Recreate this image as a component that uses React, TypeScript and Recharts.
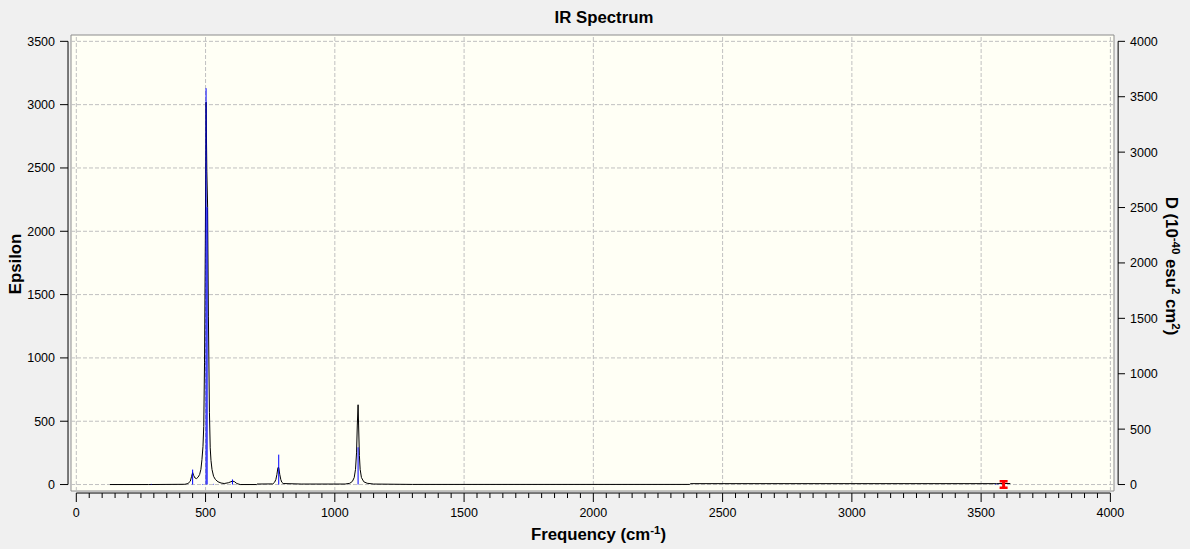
import {
  ComposedChart,
  Label,
  Line,
  ReferenceArea,
  ReferenceLine,
  Scatter,
  XAxis,
  YAxis,
} from 'recharts';

// broadened IR curve, [frequency cm-1, epsilon]
const spectrum: [number, number][] = [
  [130, 0], [280, 0], [420, 2], [432, 8], [441, 26], [446, 65], [450, 95],
  [454, 72], [459, 52], [465, 47], [471, 58], [477, 79], [482, 120], [486, 197],
  [490, 300], [493, 459], [496, 961], [499, 1900], [502, 3020], [505, 2470],
  [508, 2190], [511, 1330], [515, 567], [518, 290], [521, 190], [525, 118],
  [531, 65], [538, 40], [548, 22], [560, 12], [572, 8], [588, 14], [598, 22],
  [604, 27], [611, 24], [621, 8], [634, 0], [698, 0], [700, 4], [760, 5],
  [767, 18], [772, 40], [776, 80], [780, 134], [783, 134], [787, 80], [791, 40],
  [795, 18], [800, 8], [870, 4], [1040, 4], [1058, 10], [1068, 25], [1075, 55],
  [1080, 120], [1084, 250], [1087, 470], [1090, 630], [1092, 470], [1095, 230],
  [1098, 120], [1103, 55], [1112, 22], [1125, 10], [1150, 4], [1300, 1],
  [2372, 1], [2376, 7], [3560, 7], [3585, 8], [3613, 8],
];

// computed transitions (blue sticks), intensity on the D axis
const stickFreqs = [290, 450, 488, 502, 506, 531, 604, 783, 1090, 3555, 3565];
const stickStrengths = [6, 135, 5, 3577, 2503, 6, 46, 270, 336, 6, 6];

const markerPoint = [{ freq: 3587, eps: 0 }];

const freqMajorTicks = [0, 500, 1000, 1500, 2000, 2500, 3000, 3500, 4000];
const freqTicks = Array.from({ length: 81 }, (_, i) => i * 50);
const epsTicks = [0, 500, 1000, 1500, 2000, 2500, 3000, 3500];
const dTicks = [0, 500, 1000, 1500, 2000, 2500, 3000, 3500, 4000];

const X_DOMAIN: [number, number] = [-20.5, 4014];
const EPS_DOMAIN: [number, number] = [-51, 3550];
const D_DOMAIN: [number, number] = [(-51 * 8) / 7, (3550 * 8) / 7];

const curveRows = spectrum.map(([freq, eps]) => ({ freq, eps }));
const stickRows = stickFreqs.flatMap((freq, i) => [
  { freq, d: 0 },
  { freq, d: stickStrengths[i] },
  { freq, d: null },
]);

const FONT = '"Liberation Sans", Arial, sans-serif';
const GRID = '#c0c0c0';
const TITLE_SIZE = 16.8;

const FreqTick = ({ x, y, payload }: any) => {
  const major = freqMajorTicks.includes(payload.value);
  return (
    <g>
      <line x1={x} x2={x} y1={y + 2} y2={y + (major ? 11 : 7)} stroke="#000" />
      {major && (
        <text x={x} y={y + 26} textAnchor="middle" fontSize={12.5} fontFamily={FONT} fill="#000">
          {payload.value}
        </text>
      )}
    </g>
  );
};

const EpsTick = ({ x, y, payload }: any) => (
  <g>
    <line x1={x - 11} x2={x - 3} y1={y} y2={y} stroke="#000" />
    <text x={x - 16} y={y} dy="0.36em" textAnchor="end" fontSize={12.5} fontFamily={FONT} fill="#000">
      {payload.value}
    </text>
  </g>
);

const DTick = ({ x, y, payload }: any) => (
  <g>
    <line x1={x + 4} x2={x + 11} y1={y} y2={y} stroke="#000" />
    <text x={x + 16} y={y} dy="0.36em" textAnchor="start" fontSize={12.5} fontFamily={FONT} fill="#000">
      {payload.value}
    </text>
  </g>
);

const FreqLabel = ({ viewBox }: any) => (
  <text
    x={viewBox.x + viewBox.width / 2 + 6}
    y={viewBox.y + 49}
    textAnchor="middle"
    fontSize={TITLE_SIZE}
    fontWeight="bold"
    fontFamily={FONT}
    fill="#000"
  >
    Frequency (cm<tspan dy={-6} fontSize={11.5}>-1</tspan>
    <tspan dy={6}>)</tspan>
  </text>
);

const EpsLabel = ({ viewBox }: any) => {
  const cx = 21;
  const cy = viewBox.y + viewBox.height / 2 + 1;
  return (
    <text
      x={cx}
      y={cy}
      transform={`rotate(-90, ${cx}, ${cy})`}
      textAnchor="middle"
      fontSize={TITLE_SIZE}
      fontWeight="bold"
      fontFamily={FONT}
      fill="#000"
    >
      Epsilon
    </text>
  );
};

const DLabel = ({ viewBox }: any) => {
  const cx = viewBox.x + 52;
  const cy = viewBox.y + viewBox.height / 2 + 3;
  return (
    <text
      x={cx}
      y={cy}
      transform={`rotate(90, ${cx}, ${cy})`}
      textAnchor="middle"
      fontSize={TITLE_SIZE}
      fontWeight="bold"
      fontFamily={FONT}
      fill="#000"
    >
      D (10<tspan dy={-6} fontSize={11.5}>-40</tspan>
      <tspan dy={6}> esu</tspan>
      <tspan dy={-6} fontSize={11.5}>2</tspan>
      <tspan dy={6}> cm</tspan>
      <tspan dy={-6} fontSize={11.5}>2</tspan>
      <tspan dy={6}>)</tspan>
    </text>
  );
};

const RedMark = ({ cx, cy }: any) => (
  <path
    d={`M${cx - 4},${cy - 4.5}h8v2.5h-2.5v4h2.5v2.5h-8v-2.5h2.5v-4h-2.5z`}
    fill="#ff0000"
  />
);

export default function App() {
  return (
    <div
      style={{
        position: 'absolute',
        left: 0,
        top: 0,
        width: 1190,
        height: 549,
        background: '#f0f0f0',
        fontFamily: FONT,
      }}
    >
      <div
        style={{
          position: 'absolute',
          left: 604,
          top: 10,
          transform: 'translateX(-50%)',
          fontSize: TITLE_SIZE,
          lineHeight: '16px',
          fontWeight: 'bold',
          whiteSpace: 'nowrap',
        }}
      >
        IR Spectrum
      </div>
      <ComposedChart width={1190} height={549} margin={{ top: 35, right: 0, bottom: 0, left: 0 }}>
        <ReferenceArea
          yAxisId="eps"
          x1={X_DOMAIN[0]}
          x2={X_DOMAIN[1]}
          y1={EPS_DOMAIN[0]}
          y2={EPS_DOMAIN[1]}
          fill="#fffff5"
          fillOpacity={1}
          stroke="#8c8c8c"
          ifOverflow="visible"
        />
        {freqMajorTicks.map((v) => (
          <ReferenceLine key={`gx${v}`} yAxisId="eps" x={v} stroke={GRID} strokeDasharray="4 2" />
        ))}
        {epsTicks.map((v) => (
          <ReferenceLine key={`gy${v}`} yAxisId="eps" y={v} stroke={GRID} strokeDasharray="4 2" />
        ))}
        {/* axis lines sit a few px outside the plot frame and span only the tick range */}
        <ReferenceLine
          yAxisId="eps"
          segment={[{ x: -32, y: 0 }, { x: -32, y: 3500 }]}
          stroke="#000"
          ifOverflow="visible"
        />
        <ReferenceLine
          yAxisId="d"
          segment={[{ x: 4030, y: 0 }, { x: 4030, y: 4000 }]}
          stroke="#000"
          ifOverflow="visible"
        />
        <ReferenceLine
          yAxisId="eps"
          segment={[{ x: 0, y: -67 }, { x: 4000, y: -67 }]}
          stroke="#000"
          ifOverflow="visible"
        />
        <XAxis
          dataKey="freq"
          type="number"
          domain={X_DOMAIN}
          allowDataOverflow
          ticks={freqTicks}
          interval={0}
          tick={<FreqTick />}
          tickSize={0}
          tickMargin={0}
          tickLine={false}
          axisLine={false}
          height={58}
        >
          <Label content={<FreqLabel />} />
        </XAxis>
        <YAxis
          yAxisId="eps"
          orientation="left"
          type="number"
          domain={EPS_DOMAIN}
          allowDataOverflow
          ticks={epsTicks}
          interval={0}
          tick={<EpsTick />}
          tickSize={0}
          tickMargin={0}
          tickLine={false}
          axisLine={false}
          width={71}
        >
          <Label content={<EpsLabel />} />
        </YAxis>
        <YAxis
          yAxisId="d"
          orientation="right"
          type="number"
          domain={D_DOMAIN}
          allowDataOverflow
          ticks={dTicks}
          interval={0}
          tick={<DTick />}
          tickSize={0}
          tickMargin={0}
          tickLine={false}
          axisLine={false}
          width={76}
        >
          <Label content={<DLabel />} />
        </YAxis>
        <Line
          data={curveRows}
          yAxisId="eps"
          dataKey="eps"
          type="linear"
          stroke="#000"
          strokeWidth={1}
          dot={false}
          activeDot={false}
          isAnimationActive={false}
        />
        <Line
          data={stickRows}
          yAxisId="d"
          dataKey="d"
          type="linear"
          stroke="#0000ff"
          strokeWidth={1}
          dot={false}
          activeDot={false}
          connectNulls={false}
          isAnimationActive={false}
        />
        <Scatter
          data={markerPoint}
          yAxisId="eps"
          dataKey="eps"
          shape={<RedMark />}
          isAnimationActive={false}
        />
      </ComposedChart>
    </div>
  );
}
